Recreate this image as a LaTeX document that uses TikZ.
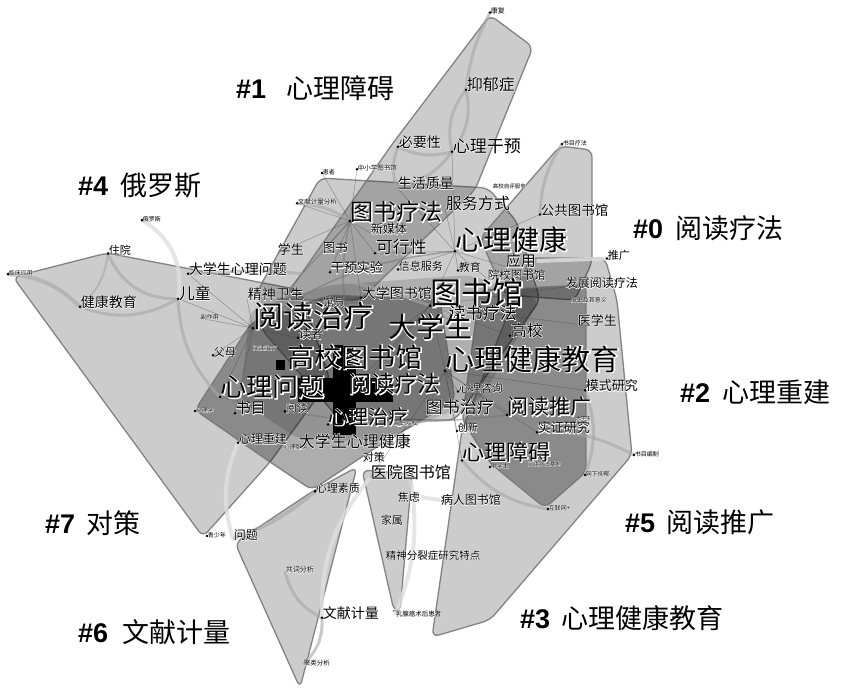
\documentclass[tikz,border=0pt]{standalone}
\usepackage{fontspec}
\newfontfamily\cjk{Noto Sans CJK SC}
\newfontfamily\cjkhalo[FakeBold=6]{Noto Sans CJK SC}
\newfontfamily\arial{Liberation Sans}
\newcommand\hl[1]{\makebox[0pt][l]{\color{white}\cjkhalo #1}#1}
\pgfdeclarelayer{bg}
\pgfdeclarelayer{lnk}
\pgfsetlayers{bg,lnk,main}
\tikzset{
 hull/.style={fill=black, fill opacity=0.2, draw=black!55, draw opacity=0.85, line width=1.3pt, rounded corners=7pt, line join=round},
 hulld/.style={hull, fill opacity=0.32},
 shade/.style={fill=black, fill opacity=0.14, rounded corners=10pt},
 lb/.style={font=\cjk\fontsize{#1}{#1}\selectfont, inner sep=0.6pt, anchor=west, text=black},
 clab/.style={font=\cjk\fontsize{27}{27}\selectfont, anchor=west, inner sep=0pt},
 lk/.style={draw=gray!70, line width=3pt, opacity=0.6},
 lkd/.style={draw=black!55, line width=1.6pt, opacity=0.5},
 lkl/.style={draw=gray!25, line width=4pt, opacity=0.8},
 thn/.style={draw=black!75, line width=0.5pt, opacity=0.45},
}
\begin{document}
\begin{tikzpicture}[x=1pt,y=1pt]
\begin{pgfonlayer}{bg}
\fill[white] (0,0) rectangle (841,-693);
% hulls
\draw[hull] (13,-277) -- (107,-253) -- (300,-290) -- (330,-380) -- (270,-462) -- (203,-537) -- cycle;
\draw[hull] (320,-178) -- (488,-188) -- (517,-222) -- (540,-300) -- (455,-420) -- (340,-420) -- (262,-330) -- (258,-290) -- cycle;
\draw[hull] (393,-143) -- (490,-15) -- (533,-47) -- (475,-190) -- (360,-300) -- (283,-300) -- cycle;
\draw[hull] (480,-238) -- (560,-146) -- (592,-150) -- (592,-262) -- (575,-300) -- (505,-295) -- cycle;
\draw[hull] (462,-430) -- (530,-258) -- (605,-258) -- (617,-300) -- (632,-455) -- (490,-620) -- (432,-637) -- cycle;
\draw[hulld] (480,-290) -- (586,-285) -- (586,-472) -- (545,-508) -- (490,-463) -- (462,-420) -- cycle;
\draw[hulld] (195,-410) -- (252,-322) -- (330,-295) -- (440,-300) -- (455,-400) -- (380,-445) -- (312,-490) -- (270,-462) -- cycle;
\draw[hull] (313,-491) -- (357,-467) -- (300,-688) -- (235,-543) -- cycle;
\draw[hull] (362,-470) -- (412,-474) -- (400,-612) -- (394,-611) -- cycle;
\fill[shade] (250,-310) -- (330,-285) -- (470,-275) -- (540,-300) -- (480,-400) -- (380,-440) -- (300,-440) -- (240,-400) -- cycle;
\end{pgfonlayer}

% cluster labels
\node[clab] (c1) at (236,-88) {{\arial\bfseries\#1}\hspace{20pt}心理障碍};
\node[clab] (c4) at (78,-185) {{\arial\bfseries\#4}\hspace{12pt}俄罗斯};
\node[clab] (c0) at (633,-228) {{\arial\bfseries\#0}\hspace{12pt}阅读疗法};
\node[clab] (c2) at (680,-392) {{\arial\bfseries\#2}\hspace{12pt}心理重建};
\node[clab] (c7) at (45,-523) {{\arial\bfseries\#7}\hspace{11pt}对策};
\node[clab] (c5) at (625,-522) {{\arial\bfseries\#5}\hspace{11pt}阅读推广};
\node[clab] (c6) at (78,-632) {{\arial\bfseries\#6}\hspace{14pt}文献计量};
\node[clab] (c3) at (520,-618) {{\arial\bfseries\#3}\hspace{11pt}心理健康教育};

% keyword labels
\node[lb=7] (kf) at (490,-11) {\hl{康复}};
\node[lb=16] (yyz) at (466,-84) {\hl{抑郁症}};
\node[lb=14] (byx) at (398,-142) {\hl{必要性}};
\node[lb=17] (xlgy) at (452,-146) {\hl{心理干预}};
\node[lb=6] (smlf) at (562,-143) {\hl{书目疗法}};
\node[lb=14] (shzl) at (397,-183) {\hl{生活质量}};
\node[lb=6] (hz) at (322,-172) {\hl{患者}};
\node[lb=6.5] (zxx) at (357,-168) {\hl{中小学图书馆}};
\node[lb=6.5] (wxjl) at (297,-202) {\hl{文献计量分析}};
\node[lb=5.5] (gxzp) at (492,-186) {\hl{高校自评服务}};
\node[lb=23] (tslf) at (350,-212) {\hl{图书疗法}};
\node[lb=16] (fwfs) at (445,-203) {\hl{服务方式}};
\node[lb=13.5] (ggtsg) at (540,-210) {\hl{公共图书馆}};
\node[lb=12] (xmt) at (370,-229) {\hl{新媒体}};
\node[lb=13] (xs) at (277,-249) {\hl{学生}};
\node[lb=12.5] (ts) at (322,-248) {\hl{图书}};
\node[lb=17] (kxx) at (375,-247) {\hl{可行性}};
\node[lb=28] (xljk) at (455,-240) {\hl{心理健康}};
\node[lb=11] (tg) at (607,-255) {\hl{推广}};
\node[lb=14] (dxsxlwt) at (188,-269) {\hl{大学生心理问题}};
\node[lb=13] (gysy) at (330,-268) {\hl{干预实验}};
\node[lb=11] (xxfw) at (398,-266) {\hl{信息服务}};
\node[lb=11] (jy) at (458,-267) {\hl{教育}};
\node[lb=15] (yy) at (505,-261) {\hl{应用}};
\node[lb=11.5] (yxtsg) at (487,-275) {\hl{院校图书馆}};
\node[lb=12] (fzydlf) at (565,-283) {\hl{发展阅读疗法}};
\node[lb=6] (lsjq) at (570,-300) {\hl{历史及其意义}};
\node[lb=13] (yxs) at (577,-320) {\hl{医学生}};
\node[lb=11] (zy) at (108,-250) {\hl{住院}};
\node[lb=6] (els) at (142,-219) {\hl{俄罗斯}};
\node[lb=6] (lcyy) at (8,-273) {\hl{临床应用}};
\node[lb=14] (jkjy) at (80,-302) {\hl{健康教育}};
\node[lb=16] (et) at (178,-293) {\hl{儿童}};
\node[lb=14] (jsws) at (247,-294) {\hl{精神卫生}};
\node[lb=6] (fzy) at (200,-317) {\hl{副作用}};
\node[lb=14] (dxtsg) at (361,-293) {\hl{大学图书馆}};
\node[lb=31] (tsg) at (430,-293) {\hl{图书馆}};
\node[lb=30] (ydzl) at (253,-316) {\hl{阅读治疗}};
\node[lb=11] (gy) at (322,-302) {\hl{馆员}};
\node[lb=17] (dzlf) at (448,-313) {\hl{读书疗法}};
\node[lb=28] (dxs) at (388,-327) {\hl{大学生}};
\node[lb=16] (gx) at (510,-330) {\hl{高校}};
\node[lb=12] (dz) at (298,-334) {\hl{读者}};
\node[lb=27] (gxtsg) at (287,-357) {\hl{高校图书馆}};
\node[lb=29] (xljkjy) at (445,-359) {\hl{心理健康教育}};
\node[lb=11] (fm) at (213,-352) {\hl{父母}};
\node[lb=6] (ydzlb) at (252,-348) {\hl{阅读治疗}};
\node[lb=26] (xlwt) at (220,-387) {\hl{心理问题}};
\node[lb=23] (ydlf) at (348,-384) {\hl{阅读疗法}};
\node[lb=11] (xlzx) at (458,-388) {\hl{心理咨询}};
\node[lb=13] (msyj) at (585,-386) {\hl{模式研究}};
\node[lb=6] (xlx) at (195,-410) {\hl{心理学}};
\node[lb=15] (sm) at (235,-408) {\hl{书目}};
\node[lb=11] (yd) at (285,-408) {\hl{阅读}};
\node[lb=20] (xlzl) at (328,-417) {\hl{心理治疗}};
\node[lb=6] (gzyx) at (393,-423) {\hl{高职院校}};
\node[lb=17] (tszl) at (425,-407) {\hl{图书治疗}};
\node[lb=21] (ydtg) at (507,-407) {\hl{阅读推广}};
\node[lb=5] (gzs) at (575,-419) {\hl{大学生}};
\node[lb=10] (cx) at (457,-428) {\hl{创新}};
\node[lb=13] (szyj) at (537,-428) {\hl{实证研究}};
\node[lb=12] (xlcj) at (238,-439) {\hl{心理重建}};
\node[lb=6] (xlfw) at (283,-447) {\hl{心理服务}};
\node[lb=16] (dxsxljk) at (298,-441) {\hl{大学生心理健康}};
\node[lb=22] (xlza) at (462,-452) {\hl{心理障碍}};
\node[lb=6] (zxs) at (490,-466) {\hl{中学生}};
\node[lb=5.5] (ydlfjd) at (527,-464) {\hl{阅读疗法基地}};
\node[lb=6] (wsyy) at (585,-474) {\hl{网下抑郁}};
\node[lb=6] (smbz) at (634,-454) {\hl{书目编制}};
\node[lb=11] (dc) at (362,-457) {\hl{对策}};
\node[lb=16] (yytsg) at (370,-472) {\hl{医院图书馆}};
\node[lb=6] (hlw) at (548,-508) {\hl{互联网+}};
\node[lb=11] (xlsz) at (315,-488) {\hl{心理素质}};
\node[lb=11] (jl) at (397,-497) {\hl{焦虑}};
\node[lb=12] (brtsg) at (440,-500) {\hl{病人图书馆}};
\node[lb=11] (js) at (380,-520) {\hl{家属}};
\node[lb=10.5] (jsfl) at (385,-555) {\hl{精神分裂症研究特点}};
\node[lb=6] (qsn) at (207,-535) {\hl{青少年}};
\node[lb=12] (wt) at (233,-535) {\hl{问题}};
\node[lb=7] (gcfx) at (285,-570) {\hl{共词分析}};
\node[lb=14] (wxjlb) at (322,-613) {\hl{文献计量}};
\node[lb=6.5] (rxa) at (395,-614) {\hl{乳腺癌术后患者}};
\node[lb=6.5] (jlfx) at (303,-663) {\hl{聚类分析}};

\foreach \n in {kf,yyz,byx,xlgy,smlf,shzl,hz,zxx,wxjl,gxzp,tslf,fwfs,ggtsg,xmt,xs,ts,kxx,xljk,tg,dxsxlwt,gysy,xxfw,jy,yy,yxtsg,fzydlf,lsjq,yxs,zy,els,lcyy,jkjy,et,jsws,fzy,dxtsg,tsg,ydzl,gy,dzlf,dxs,gx,dz,gxtsg,xljkjy,fm,ydzlb,xlwt,ydlf,xlzx,msyj,xlx,sm,yd,xlzl,gzyx,tszl,ydtg,gzs,cx,szyj,xlcj,xlfw,dxsxljk,xlza,zxs,ydlfjd,wsyy,smbz,dc,yytsg,hlw,xlsz,jl,brtsg,js,jsfl,qsn,wt,gcfx,wxjlb,rxa,jlfx}
  \coordinate (\n-d) at ([yshift=2.5pt]\n.south west);

\begin{pgfonlayer}{lnk}
% thick gray links
\draw[lk] (zy-d) to[bend right=35] (et-d);
\draw[lk,line width=4pt] (lcyy-d) to[bend left=20] (jkjy-d);
\draw[lk] (jkjy-d) to[bend right=25] (et-d);
\draw[lk,line width=2pt] (zy-d) to[bend left=20] (jkjy-d);
\draw[lkl] (els-d) to[bend left=35] (et-d);
\draw[lk] (yyz-d) to[bend left=10] (kf-d);
\draw[lk] (yyz-d) to[bend left=25] (xlgy-d);
\draw[lk] (yyz-d) to[bend right=25] (xlgy-d);
\draw[lk] (byx-d) to[bend right=20] (xlgy-d);
\draw[lk] (xlgy-d) to[bend left=20] (shzl-d);
\draw[lk] (byx-d) to[bend right=20] (shzl-d);
\draw[lk,line width=4pt] (wt-d) to[bend right=10] (xlsz-d);
\draw[lk] (gcfx-d) to[bend right=25] (wxjlb-d);
\draw[lk] (wxjlb-d) to[bend left=25] (jlfx-d);
\draw[lkl] (jl.east) -- (brtsg.west);
\draw[lkl] (yytsg-d) to[bend right=20] (wxjlb-d);
\draw[lkl] (yytsg.south) to[bend left=15] (rxa-d);
\draw[lkl] (wt-d) to[bend left=20] (xlcj-d);
\draw[lk] (smlf-d) to[bend right=15] (ggtsg-d);
\draw[lkl] (tg-d) -- (yy.east);
\draw[lk] (dxsxlwt-d) to[bend left=12] (tsg-d);
\draw[lk] (wxjl-d) to[bend left=15] (tslf-d);
\draw[lk] (et-d) to[bend right=20] (xlwt-d);
\draw[lk] (xlza-d) to[bend right=20] (hlw-d);
\draw[lk] (szyj-d) to[bend left=15] (smbz-d);
\draw[lk] (msyj-d) to[bend left=20] (wsyy-d);
\draw[lkd] (ydzl-d) to[bend left=15] (xljk-d);
\draw[lkd] (xlwt-d) to[bend right=10] (ydtg-d);
\draw[lkd] (gxtsg.west) to[bend left=10] (xljkjy-d);
\draw[lkd] (tslf-d) to[bend right=15] (gxtsg.north);
% thin links
\foreach \t in {kxx,xxfw,jy,yy,ggtsg,tsg,fwfs,shzl,yxtsg,xlgy} \draw[thn] (xljk-d) -- (\t-d);
\foreach \t in {xs,ts,gysy,dxtsg,xmt,kxx,hz,zxx,wxjl,ydzl} \draw[thn] (tslf-d) -- (\t-d);
\foreach \t in {et,fm,xlwt,fzy,jsws,dz,dxsxlwt,sm} \draw[thn] (ydzl-d) -- (\t-d);
\foreach \t in {dxs,gx,dzlf,xljkjy,ydlf,xlzl,yxs,fzydlf} \draw[thn] (tsg-d) -- (\t-d);
\foreach \t in {xlzx,tszl,ydtg,cx,xlza,yytsg,msyj,szyj} \draw[thn] (xljkjy-d) -- (\t-d);
% burst marks
\fill[black] (298,-378) rectangle (393,-402);
\fill[black] (333,-345) rectangle (356,-435);
\fill[black] (276,-360) rectangle (285,-370);
\end{pgfonlayer}

\foreach \n in {kf,yyz,byx,xlgy,smlf,hz,zxx,wxjl,tslf,ggtsg,kxx,xljk,tg,dxsxlwt,gysy,xxfw,jy,zy,els,lcyy,jkjy,et,dxtsg,tsg,ydzl,dz,gx,xljkjy,fm,xlwt,xlzx,msyj,xlx,sm,yd,xlzl,ydtg,cx,szyj,xlcj,xlza,zxs,wsyy,smbz,hlw,xlsz,qsn,wxjlb}
  \fill[black] (\n-d) circle (1.4pt);

\useasboundingbox (0,0) rectangle (841,-693);
\end{tikzpicture}
\end{document}
